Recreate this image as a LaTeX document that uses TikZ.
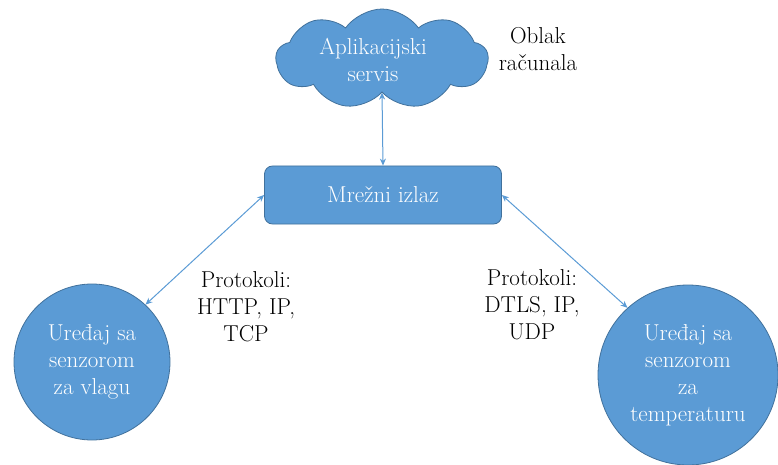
\documentclass[tikz,border=0pt]{standalone}
\usetikzlibrary{shapes.symbols,arrows.meta}
\definecolor{bluefill}{HTML}{5B9BD5}
\definecolor{blueedge}{HTML}{41719C}
\begin{document}
\begin{tikzpicture}[x=1pt,y=-1pt,
  every node/.style={font=\rmfamily\fontsize{23}{27}\selectfont, align=center, inner sep=0pt},
  bluenode/.style={fill=bluefill, draw=blueedge, line width=0.8pt, text=white},
  conn/.style={draw=bluefill, line width=1pt, {Stealth[length=7pt,width=6pt]}-{Stealth[length=7pt,width=6pt]}}]
\useasboundingbox (0,0) rectangle (778,465);
\node[bluenode, cloud, cloud puffs=9, cloud puff arc=110, aspect=2.1,
      minimum width=212pt, minimum height=100pt] (cloud) at (382,59) {};
\node[text=white] (cloudtxt) at (373,60) {Aplikacijski\\servis};
\node (oblak) at (538,49) {Oblak\\računala};
\node[bluenode, rounded corners=8pt, minimum width=237pt, minimum height=58pt] (gw) at (383,195) {Mrežni izlaz};
\node[bluenode, circle, minimum size=156pt] (lc) at (92,362) {Uređaj sa\\senzorom\\za vlagu};
\node[bluenode, circle, minimum size=180pt] (rc) at (688,375) {Uređaj sa\\senzorom\\za\\temperaturu};
\node (pl) at (246,307) {Protokoli:\\HTTP, IP,\\TCP};
\node (pr) at (532,305) {Protokoli:\\DTLS, IP,\\UDP};
\draw[conn] (cloud.south) -- (gw.north);
\draw[conn] (gw.west) -- (lc.47);
\draw[conn] (gw.east) -- (rc.132);
\end{tikzpicture}
\end{document}
